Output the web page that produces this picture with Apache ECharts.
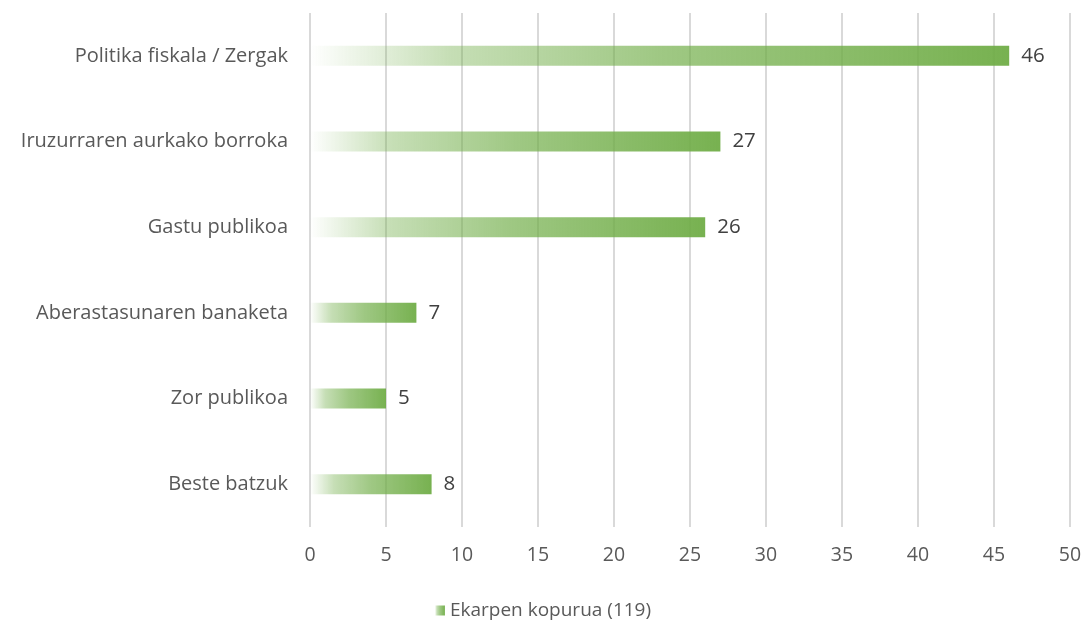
<!DOCTYPE html>
<html>
<head>
<meta charset="utf-8">
<script src="https://cdn.jsdelivr.net/npm/echarts@6/dist/echarts.min.js"></script>
<style>
  html, body { margin: 0; padding: 0; background: #fff; }
  #chart { width: 1086px; height: 620px; }
</style>
</head>
<body>
<div id="chart"></div>
<script>
// gaiak eta balioak
const categories = [
  "Politika fiskala / Zergak",
  "Iruzurraren aurkako borroka",
  "Gastu publikoa",
  "Aberastasunaren banaketa",
  "Zor publikoa",
  "Beste batzuk",
];
const values = [46, 27, 26, 7, 5, 8];
const seriesName = "Ekarpen kopurua (119)";

const fontFamily = "'Open Sans', 'Noto Sans', sans-serif";

const chart = echarts.init(document.getElementById("chart"));
chart.setOption({
  animation: false,
  textStyle: { fontFamily: fontFamily },
  grid: { left: 310, right: 16, top: 13, bottom: 93, containLabel: false },
  legend: {
    top: 596,
    left: "center",
    itemWidth: 10,
    itemHeight: 10,
    itemGap: 6,
    icon: "rect",
    textStyle: { fontSize: 19, color: "#595959", fontFamily: fontFamily },
    data: [seriesName],
  },
  xAxis: {
    type: "value",
    min: 0,
    max: 50,
    interval: 5,
    axisLine: { show: false },
    axisTick: { show: false },
    axisLabel: { fontSize: 19.5, color: "#595959", margin: 18 },
    splitLine: { lineStyle: { color: "#d9d9d9", width: 2 } },
  },
  yAxis: {
    type: "category",
    inverse: true,
    data: categories,
    axisLine: { show: false },
    axisTick: { show: false },
    axisLabel: { fontSize: 20, color: "#595959", margin: 22 },
  },
  series: [
    {
      name: seriesName,
      type: "bar",
      data: values,
      barWidth: 20,
      itemStyle: {
        color: new echarts.graphic.LinearGradient(0, 0, 1, 0, [
          { offset: 0, color: "rgba(112,173,71,0)" },
          { offset: 0.2, color: "rgba(112,173,71,0.4)" },
          { offset: 0.5, color: "rgba(112,173,71,0.67)" },
          { offset: 1, color: "rgba(112,173,71,0.95)" },
        ]),
      },
      label: {
        show: true,
        position: "right",
        distance: 12,
        fontSize: 20.5,
        color: "#404040",
      },
    },
  ],
});
</script>
</body>
</html>
